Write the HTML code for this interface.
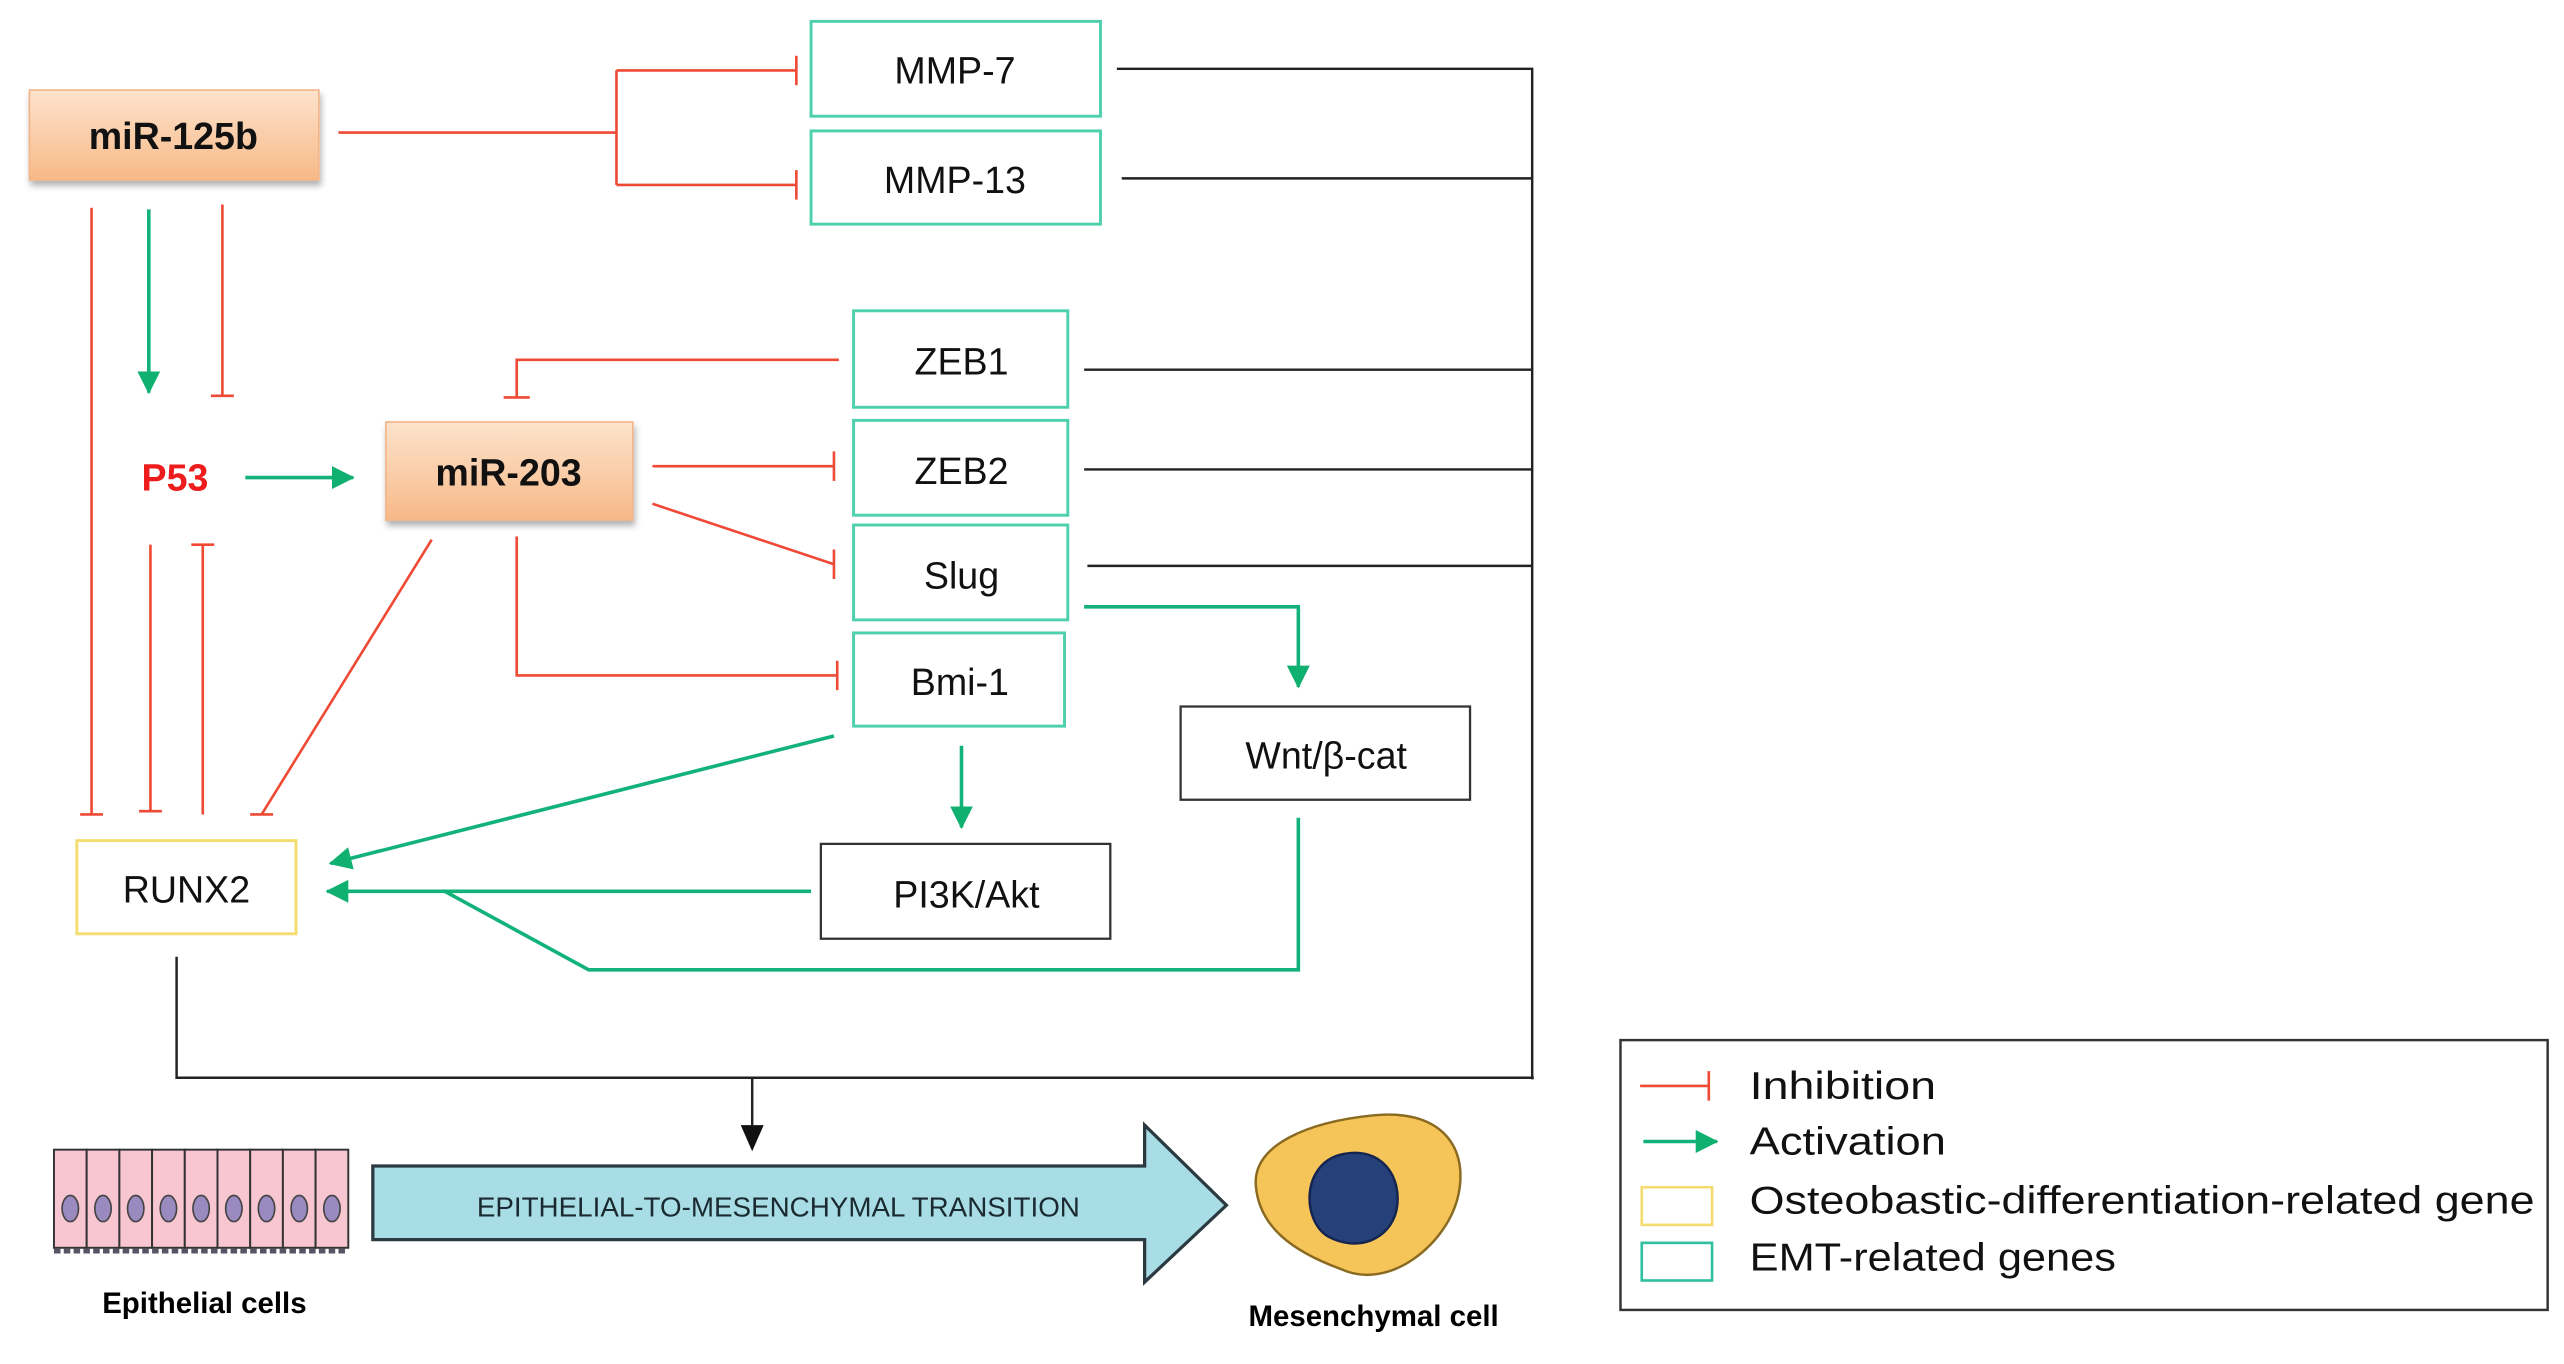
<!DOCTYPE html>
<html><head><meta charset="utf-8"><style>
html,body{margin:0;padding:0;background:#fff;}
svg{display:block;}
text{font-family:"Liberation Sans",sans-serif;}
</style></head><body>
<svg width="2564" height="1364" viewBox="0 0 1568 834" xmlns="http://www.w3.org/2000/svg">
<defs>
<linearGradient id="og" x1="0" y1="0" x2="0" y2="1"><stop offset="0" stop-color="#fde3cc"/><stop offset="1" stop-color="#f7b987"/></linearGradient>
<marker id="ga" markerWidth="14" markerHeight="14" refX="13" refY="7" orient="auto" markerUnits="userSpaceOnUse" viewBox="0 0 14 14"><path d="M0,0 L14,7 L0,14 z" fill="#10b070"/></marker>
<filter id="sh" x="-10%" y="-10%" width="130%" height="140%"><feDropShadow dx="1" dy="3" stdDeviation="2" flood-opacity="0.3"/></filter>
</defs>
<style>
.r{stroke:#ee4a36;stroke-width:1.6;fill:none}
.g{stroke:#12b27a;stroke-width:2.2;fill:none}
.k{stroke:#222;stroke-width:1.5;fill:none}
.tb{fill:#fff;stroke:#4fd0ac;stroke-width:1.8}
.bb{fill:#fff;stroke:#333;stroke-width:1.4}
.t{font-size:23px;fill:#111;text-anchor:middle;dominant-baseline:central}
</style>
<path class="k" d="M683,42 H937 V660 M686,109 H937 M663,226 H937 M663,287 H937 M665,346 H937"/>
<path class="k" d="M108,585 V659 H938 M460,659 V692"/>
<path d="M453,688 L467,688 L460,704 z" fill="#111"/>
<path class="r" d="M207,81 H377 M377,43 V113 M377,43 H487 M377,113 H487 M487,34 V52 M487,104 V122"/>
<path class="r" d="M513,220 H316 V243 M308,243 H324"/>
<path class="r" d="M399,285 H510 M510,276 V294"/>
<path class="r" d="M399,308 L510,345 M510,336 V354"/>
<path class="r" d="M316,328 V413 H512 M512,404 V422"/>
<path class="r" d="M56,127 V498 M49,498 H63"/>
<path class="r" d="M136,125 V242 M129,242 H143"/>
<path class="r" d="M92,333 V496 M85,496 H99"/>
<path class="r" d="M124,498 V333 M117,333 H131"/>
<path class="r" d="M264,330 L160,498 M153,498 H167"/>
<path class="g" d="M91,128 V240" marker-end="url(#ga)"/>
<path class="g" d="M150,292 H216" marker-end="url(#ga)"/>
<path class="g" d="M510,450 L202,528" marker-end="url(#ga)"/>
<path class="g" d="M588,456 V506" marker-end="url(#ga)"/>
<path class="g" d="M496,545 H200" marker-end="url(#ga)"/>
<path class="g" d="M663,371 H794 V420" marker-end="url(#ga)"/>
<path class="g" d="M794,500 V593 H360 L272,545"/>
<rect x="18" y="55" width="177" height="55" fill="url(#og)" stroke="#f2b58a" filter="url(#sh)"/>
<text class="t" x="106" y="83" font-weight="bold">miR-125b</text>
<rect x="236" y="258" width="151" height="60" fill="url(#og)" stroke="#f2b58a" filter="url(#sh)"/>
<text class="t" x="311" y="289" font-weight="bold">miR-203</text>
<text class="t" x="107" y="292" font-weight="bold" style="fill:#ee1c1c">P53</text>
<rect class="tb" x="496" y="13" width="177" height="58"/><text class="t" x="584" y="43">MMP-7</text>
<rect class="tb" x="496" y="80" width="177" height="57"/><text class="t" x="584" y="110">MMP-13</text>
<rect class="tb" x="522" y="190" width="131" height="59"/><text class="t" x="588" y="221">ZEB1</text>
<rect class="tb" x="522" y="257" width="131" height="58"/><text class="t" x="588" y="288">ZEB2</text>
<rect class="tb" x="522" y="321" width="131" height="58"/><text class="t" x="588" y="352">Slug</text>
<rect class="tb" x="522" y="387" width="129" height="57"/><text class="t" x="587" y="417">Bmi-1</text>
<rect x="47" y="514" width="134" height="57" fill="#fff" stroke="#f5dc70" stroke-width="1.8"/><text class="t" x="114" y="544">RUNX2</text>
<rect class="bb" x="502" y="516" width="177" height="58"/><text class="t" x="591" y="547">PI3K/Akt</text>
<rect class="bb" x="722" y="432" width="177" height="57"/><text class="t" x="811" y="462">Wnt/β-cat</text>
<path d="M228,713 H700 V688 L750,737 L700,784 V758 H228 z" fill="#a9dde6" stroke="#2a3a40" stroke-width="2"/>
<text x="476" y="738" font-size="17" text-anchor="middle" dominant-baseline="central" fill="#1a2a30">EPITHELIAL-TO-MESENCHYMAL TRANSITION</text>
<g stroke="#333" stroke-width="1.2">
<rect x="33" y="703" width="20" height="60" fill="#f7c6d0"/><rect x="53" y="703" width="20" height="60" fill="#f7c6d0"/><rect x="73" y="703" width="20" height="60" fill="#f7c6d0"/><rect x="93" y="703" width="20" height="60" fill="#f7c6d0"/><rect x="113" y="703" width="20" height="60" fill="#f7c6d0"/><rect x="133" y="703" width="20" height="60" fill="#f7c6d0"/><rect x="153" y="703" width="20" height="60" fill="#f7c6d0"/><rect x="173" y="703" width="20" height="60" fill="#f7c6d0"/><rect x="193" y="703" width="20" height="60" fill="#f7c6d0"/>
</g>
<g fill="#9a8ac0" stroke="#444" stroke-width="1">
<ellipse cx="43" cy="739" rx="5" ry="8"/><ellipse cx="63" cy="739" rx="5" ry="8"/><ellipse cx="83" cy="739" rx="5" ry="8"/><ellipse cx="103" cy="739" rx="5" ry="8"/><ellipse cx="123" cy="739" rx="5" ry="8"/><ellipse cx="143" cy="739" rx="5" ry="8"/><ellipse cx="163" cy="739" rx="5" ry="8"/><ellipse cx="183" cy="739" rx="5" ry="8"/><ellipse cx="203" cy="739" rx="5" ry="8"/>
</g>
<path d="M33,765 H213" stroke="#556" stroke-width="3" stroke-dasharray="4,2"/>
<text x="125" y="797" font-size="18" font-weight="bold" text-anchor="middle" dominant-baseline="central">Epithelial cells</text>
<path d="M840,682 C880,678 898,700 892,730 C886,760 850,790 820,776 C790,765 770,750 768,725 C766,700 800,686 840,682 z" fill="#f6c55a" stroke="#8a6a20" stroke-width="1.5"/>
<path d="M820,706 C845,700 858,720 854,740 C850,758 830,766 812,756 C796,746 796,712 820,706 z" fill="#26407a" stroke="#152550" stroke-width="1.5"/>
<text x="840" y="805" font-size="18" font-weight="bold" text-anchor="middle" dominant-baseline="central">Mesenchymal cell</text>
<rect x="991" y="636" width="567" height="165" fill="#fff" stroke="#333" stroke-width="1.5"/>
<path class="r" d="M1003,664 H1045 M1045,655 V673"/>
<path class="g" d="M1005,698 H1050" marker-end="url(#ga)"/>
<rect x="1004" y="726" width="43" height="23" fill="#fff" stroke="#f5dc70" stroke-width="1.6"/>
<rect x="1004" y="760" width="43" height="23" fill="#fff" stroke="#30c0a0" stroke-width="1.6"/>
<g font-size="24" fill="#111" dominant-baseline="central">
<text x="1070" y="664" textLength="114" lengthAdjust="spacingAndGlyphs">Inhibition</text>
<text x="1070" y="698" textLength="120" lengthAdjust="spacingAndGlyphs">Activation</text>
<text x="1070" y="734" textLength="480" lengthAdjust="spacingAndGlyphs">Osteobastic-differentiation-related gene</text>
<text x="1070" y="769" textLength="224" lengthAdjust="spacingAndGlyphs">EMT-related genes</text>
</g>
</svg>
</body></html>
